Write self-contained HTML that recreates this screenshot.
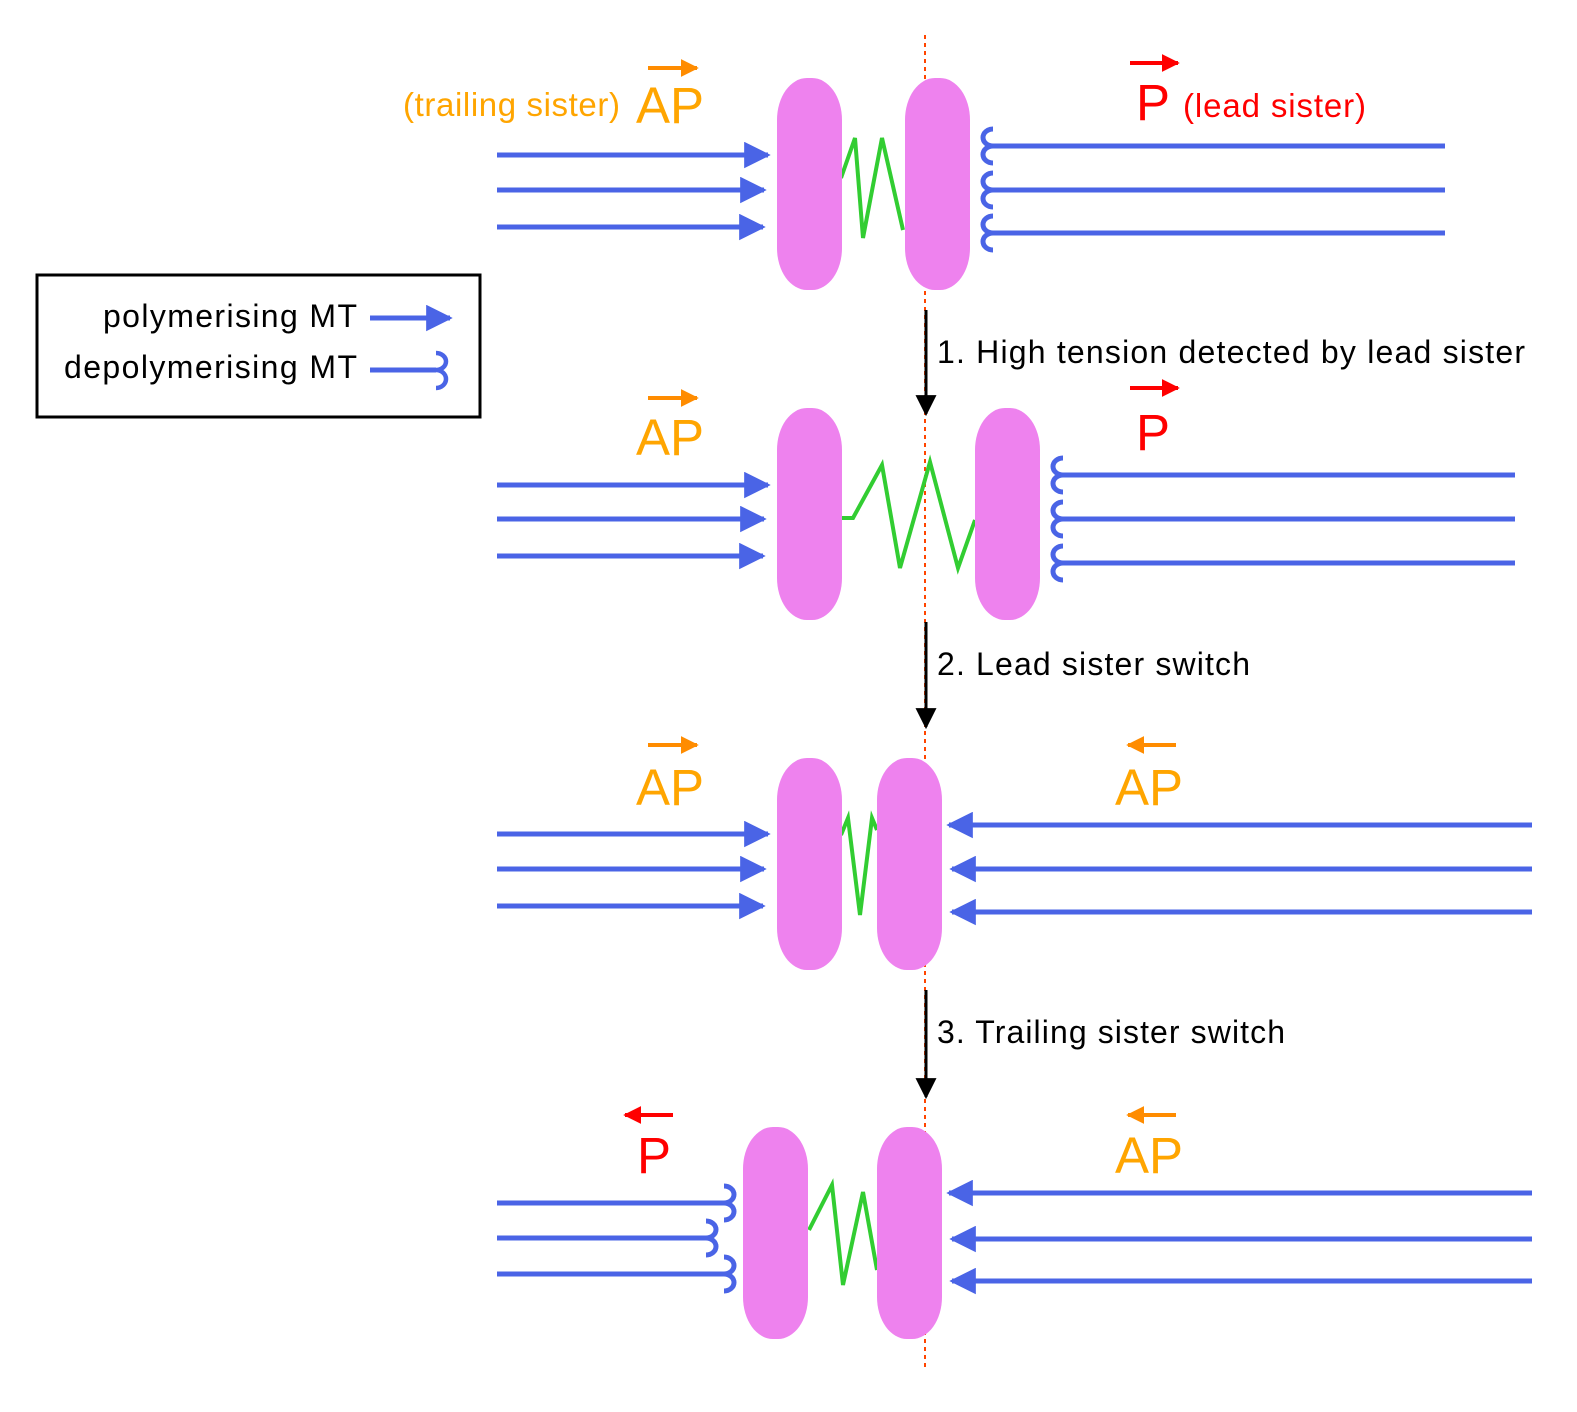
<!DOCTYPE html>
<html><head><meta charset="utf-8"><style>
html,body{margin:0;padding:0;background:#fff;overflow:hidden;width:1577px;height:1412px;}
svg{display:block;font-family:"Liberation Sans",Arial,sans-serif;}
</style></head><body>
<svg id="fig" width="1577" height="1412" viewBox="0 0 1577 1412" xmlns="http://www.w3.org/2000/svg">
<defs>
<marker id="bh" viewBox="0 0 10 10" refX="9" refY="5" markerWidth="5.3" markerHeight="5.3" markerUnits="strokeWidth" orient="auto"><path d="M0,0 L10,5 L0,10 z" fill="#4a64e6"/></marker>
<marker id="kh" viewBox="0 0 10 10" refX="9" refY="5" markerWidth="7" markerHeight="7" markerUnits="strokeWidth" orient="auto"><path d="M0,0 L10,5 L0,10 z" fill="#000"/></marker>
<marker id="oh" viewBox="0 0 10 10" refX="9" refY="5" markerWidth="4.5" markerHeight="5" markerUnits="strokeWidth" orient="auto"><path d="M0,0 L10,5 L0,10 z" fill="#ff8c00"/></marker>
<marker id="rh" viewBox="0 0 10 10" refX="9" refY="5" markerWidth="4.5" markerHeight="5" markerUnits="strokeWidth" orient="auto"><path d="M0,0 L10,5 L0,10 z" fill="#ff0000"/></marker>
</defs>

<line x1="925" y1="35" x2="925" y2="1370" stroke="#ff4500" stroke-width="2" stroke-dasharray="4,4"/>

<g>
<rect x="37" y="275" width="443" height="142" fill="#fff" stroke="#000" stroke-width="3"/>
<text x="357" y="327" font-size="32" text-anchor="end" textLength="254">polymerising MT</text>
<text x="357" y="378" font-size="32" text-anchor="end" textLength="293">depolymerising MT</text>
<line x1="370" y1="318" x2="450" y2="318" stroke="#4a64e6" stroke-width="5" marker-end="url(#bh)"/>
<line x1="370" y1="370" x2="436" y2="370" stroke="#4a64e6" stroke-width="5"/>
<path d="M436,353 A10,8.5 0 0 1 436,370 A10,9 0 0 1 436,388" fill="none" stroke="#4a64e6" stroke-width="4.5"/>
</g>

<g id="panels"></g>

<g>
<line x1="926" y1="310" x2="926" y2="414" stroke="#000" stroke-width="3" marker-end="url(#kh)"/>
<line x1="926" y1="622" x2="926" y2="727" stroke="#000" stroke-width="3" marker-end="url(#kh)"/>
<line x1="926" y1="990" x2="926" y2="1097" stroke="#000" stroke-width="3" marker-end="url(#kh)"/>
<text x="937" y="363" font-size="32" textLength="588">1. High tension detected by lead sister</text>
<text x="937" y="675" font-size="32" textLength="313">2. Lead sister switch</text>
<text x="937" y="1043" font-size="32" textLength="348">3. Trailing sister switch</text>
</g>

<g>
<text x="403" y="116" font-size="33" fill="#ffa500" textLength="217">(trailing sister)</text>
<text x="636" y="123" font-size="51" fill="#ffa500">AP</text>
<line x1="648" y1="68" x2="697" y2="68" stroke="#ff8c00" stroke-width="4" marker-end="url(#oh)"/>
<text x="1136" y="120" font-size="51" fill="#ff0000">P</text>
<line x1="1130" y1="63" x2="1178" y2="63" stroke="#ff0000" stroke-width="4" marker-end="url(#rh)"/>
<text x="1183" y="117" font-size="33" fill="#ff0000" textLength="183">(lead sister)</text>

<text x="636" y="455" font-size="51" fill="#ffa500">AP</text>
<line x1="648" y1="398" x2="697" y2="398" stroke="#ff8c00" stroke-width="4" marker-end="url(#oh)"/>
<text x="1136" y="450" font-size="51" fill="#ff0000">P</text>
<line x1="1130" y1="388" x2="1178" y2="388" stroke="#ff0000" stroke-width="4" marker-end="url(#rh)"/>

<text x="636" y="805" font-size="51" fill="#ffa500">AP</text>
<line x1="648" y1="745" x2="697" y2="745" stroke="#ff8c00" stroke-width="4" marker-end="url(#oh)"/>
<text x="1115" y="805" font-size="51" fill="#ffa500">AP</text>
<line x1="1176" y1="745" x2="1128" y2="745" stroke="#ff8c00" stroke-width="4" marker-end="url(#oh)"/>

<text x="637" y="1173" font-size="51" fill="#ff0000">P</text>
<line x1="673" y1="1115" x2="625" y2="1115" stroke="#ff0000" stroke-width="4" marker-end="url(#rh)"/>
<text x="1115" y="1173" font-size="51" fill="#ffa500">AP</text>
<line x1="1176" y1="1115" x2="1128" y2="1115" stroke="#ff8c00" stroke-width="4" marker-end="url(#oh)"/>
</g>
</svg>
<script>
const NS='http://www.w3.org/2000/svg';
const kinLeftX=[777,777,777,743];
const kinRightX=[905,975,877,877];
const kinTop=[78,408,758,1127];
const leftMTy=[[155,190,227],[485,519,556],[834,869,906],[1203,1238,1274]];
const rightMTy=[[146,190,233],[475,519,563],[825,869,912],[1193,1239,1281]];
const leftPoly=[true,true,true,false];
const rightPoly=[false,false,true,true];
const rightEnd=[1445,1515,1532,1532];
const springs=[
 [[841,178],[855,138],[863,238],[882,138],[903,230]],
 [[841,518],[853,518],[882,465],[900,568],[930,462],[958,568],[975,520]],
 [[841,835],[848,818],[860,915],[872,818],[877,830]],
 [[809,1230],[832,1185],[843,1285],[863,1192],[877,1270]]
];
const g=document.getElementById('panels');
function mk(tag,attrs){const e=document.createElementNS(NS,tag);for(const k in attrs)e.setAttribute(k,attrs[k]);return e;}
function curl(x,y,dir){
 const sw=dir>0?0:1;
 return `M${x},${y-17} A10,8.5 0 0 ${sw} ${x},${y} A10,8.5 0 0 ${sw} ${x},${y+17}`;
}
for(let p=0;p<4;p++){
 const pg=mk('g',{});
 
 
 g.appendChild(pg);
 const sp=mk('polyline',{points:springs[p].map(a=>a.join(',')).join(' '),fill:'none',stroke:'#32cd32','stroke-width':4});
 
 
 pg.appendChild(sp);
 [kinLeftX[p],kinRightX[p]].forEach((x,i)=>{
  const r=mk('rect',{x:x,y:kinTop[p],width:65,height:212,rx:30,ry:42,fill:'#ee82ee'});
  
  
  pg.appendChild(r);
 });
 leftMTy[p].forEach((y,i)=>{
  if(leftPoly[p]){
   const l=mk('line',{x1:497,y1:y,x2:[768,764,763][i],y2:y,stroke:'#4a64e6','stroke-width':5,'marker-end':'url(#bh)'});
   
   
   pg.appendChild(l);
  } else {
   const cx=[724,706,724][i];
   const l=mk('path',{d:`M497,${y} L${cx},${y} `+curl(cx,y,-1),fill:'none',stroke:'#4a64e6','stroke-width':5});
   
   
   pg.appendChild(l);
  }
 });
 rightMTy[p].forEach((y,i)=>{
  if(rightPoly[p]){
   const l=mk('line',{x1:rightEnd[p],y1:y,x2:[949,952,952][i],y2:y,stroke:'#4a64e6','stroke-width':5,'marker-end':'url(#bh)'});
   
   
   pg.appendChild(l);
  } else {
   const cx=kinRightX[p]+65+23;
   const l=mk('path',{d:`M${rightEnd[p]},${y} L${cx},${y} `+curl(cx,y,1),fill:'none',stroke:'#4a64e6','stroke-width':5});
   
   
   pg.appendChild(l);
  }
 });
}
</script>
</body></html>
